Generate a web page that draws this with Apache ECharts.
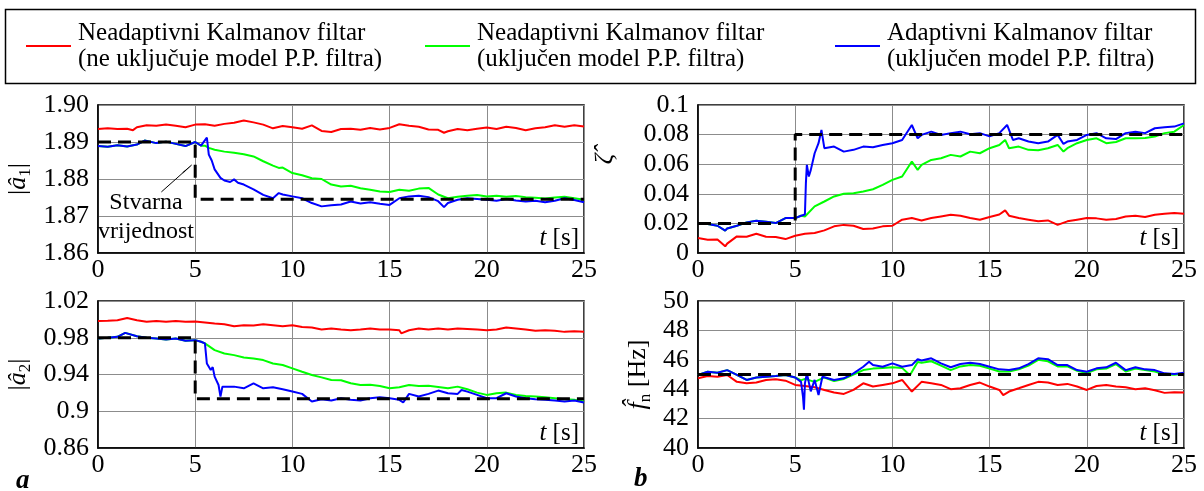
<!DOCTYPE html>
<html><head><meta charset="utf-8">
<script src="https://cdn.jsdelivr.net/npm/echarts@6/dist/echarts.min.js"></script>
<style>html,body{margin:0;padding:0;background:#fff}#c{width:1204px;height:491px}</style>
</head><body><div id="c"></div>
<script>
// ---------- names ----------
const NAME_RED = 'Neadaptivni Kalmanov filtar\n(ne uključuje model P.P. filtra)';
const NAME_GREEN = 'Neadaptivni Kalmanov filtar\n(uključen model P.P. filtra)';
const NAME_BLUE = 'Adaptivni Kalmanov filtar\n(uključen model P.P. filtra)';
const NAME_TRUE = 'Stvarna vrijednost';

// ---------- |a1| ----------
const A1_RED = [[0,1.8935],[0.5,1.8937],[1,1.8935],[1.5,1.8936],[1.8,1.8932],[2,1.8940],[2.5,1.8945],[3,1.8944],[3.5,1.8947],[4,1.8944],[4.5,1.8940],[5,1.8947],[5.5,1.8948],[6,1.8944],[6.5,1.8949],[7,1.8952],[7.5,1.8958],[8,1.8953],[8.5,1.8947],[9,1.8937],[9.5,1.8943],[10,1.8940],[10.5,1.8936],[11,1.8945],[11.5,1.8930],[12,1.8927],[12.5,1.8935],[13,1.8936],[13.5,1.8933],[14,1.8938],[14.5,1.8934],[15,1.8938],[15.5,1.8948],[16,1.8944],[16.5,1.8941],[17,1.8934],[17.5,1.8933],[17.8,1.8925],[18,1.8929],[18.5,1.8935],[19,1.8932],[19.5,1.8936],[20,1.8939],[20.5,1.8935],[21,1.8941],[21.5,1.8938],[22,1.8932],[22.5,1.8937],[23,1.8940],[23.5,1.8945],[24,1.8941],[24.5,1.8945],[25,1.8942]];
const A1_GREEN = [[0,1.8889],[0.5,1.8887],[1,1.8891],[1.5,1.8888],[2,1.8893],[2.4,1.8904],[2.5,1.8899],[3,1.8897],[3.5,1.8901],[4,1.8895],[4.5,1.8889],[5,1.8900],[5.3,1.8890],[5.5,1.8890],[5.7,1.8884],[6,1.8879],[6.5,1.8874],[7,1.8871],[7.5,1.8867],[8,1.8861],[8.5,1.8848],[9,1.8836],[9.3,1.8830],[9.5,1.8831],[10,1.8816],[10.5,1.8810],[11,1.8802],[11.5,1.8800],[12,1.8785],[12.5,1.8780],[13,1.8782],[13.5,1.8775],[14,1.8771],[14.5,1.8766],[15,1.8765],[15.5,1.8771],[16,1.8768],[16.5,1.8774],[17,1.8776],[17.5,1.8758],[18,1.8748],[18.5,1.8752],[19,1.8755],[19.5,1.8757],[20,1.8753],[20.5,1.8755],[21,1.8752],[21.5,1.8754],[22,1.8751],[22.5,1.8749],[23,1.8747],[23.5,1.8750],[24,1.8752],[24.5,1.8748],[25,1.8744]];
const A1_BLUE = [[0,1.8889],[0.5,1.8887],[1,1.8891],[1.5,1.8888],[2,1.8893],[2.4,1.8904],[2.5,1.8899],[3,1.8897],[3.5,1.8901],[4,1.8895],[4.5,1.8889],[5,1.8900],[5.3,1.8890],[5.6,1.8912],[5.7,1.8866],[5.85,1.8850],[6,1.8826],[6.3,1.8803],[6.5,1.8796],[6.8,1.8792],[7,1.8799],[7.2,1.8790],[7.5,1.8785],[8,1.8772],[8.5,1.8757],[9,1.8748],[9.3,1.8762],[9.5,1.8758],[10,1.8753],[10.5,1.8748],[11,1.8735],[11.5,1.8726],[12,1.8729],[12.5,1.8731],[13,1.8739],[13.5,1.8734],[14,1.8737],[14.5,1.8733],[15,1.8730],[15.5,1.8748],[16,1.8753],[16.5,1.8755],[17,1.8751],[17.5,1.8740],[17.8,1.8724],[18,1.8735],[18.5,1.8744],[19,1.8748],[19.5,1.8746],[20,1.8744],[20.5,1.8741],[21,1.8746],[21.5,1.8742],[22,1.8739],[22.5,1.8741],[23,1.8737],[23.5,1.8741],[24,1.8748],[24.5,1.8743],[25,1.8737]];
const A1_TRUE = [[0,1.89],[5,1.89],[5,1.8745],[25,1.8745]];

// ---------- |a2| ----------
const A2_RED = [[0,0.9983],[0.5,0.9986],[1,0.9990],[1.5,1.0014],[2,0.9990],[2.5,0.9975],[3,0.9983],[3.5,0.9974],[4,0.9982],[4.5,0.9973],[5,0.9976],[5.5,0.9965],[6,0.9954],[6.5,0.9947],[7,0.9925],[7.5,0.9936],[8,0.9934],[8.5,0.9947],[9,0.9936],[9.5,0.9925],[10,0.9936],[10.5,0.9918],[11,0.9911],[11.5,0.9889],[12,0.9900],[12.5,0.9889],[13,0.9882],[13.5,0.9890],[14,0.9900],[14.5,0.9889],[15,0.9889],[15.5,0.9882],[15.6,0.9848],[16,0.9882],[16.5,0.9900],[17,0.9889],[17.5,0.9900],[18,0.9889],[18.5,0.9900],[19,0.9896],[19.5,0.9889],[20,0.9882],[20.5,0.9889],[21,0.9911],[21.5,0.9900],[22,0.9889],[22.5,0.9875],[23,0.9882],[23.5,0.9875],[24,0.9864],[24.5,0.9871],[25,0.9864]];
const A2_GREEN = [[0,0.9792],[0.5,0.9800],[1,0.9810],[1.4,0.9853],[1.5,0.9839],[2,0.9817],[2.5,0.9800],[3,0.9792],[3.5,0.9781],[4,0.9792],[4.5,0.9767],[5,0.9774],[5.3,0.9756],[5.5,0.9738],[6,0.9665],[6.5,0.9629],[7,0.9611],[7.5,0.9586],[8,0.9575],[8.5,0.9557],[9,0.9520],[9.5,0.9503],[10,0.9467],[10.5,0.9430],[11,0.9395],[11.5,0.9369],[12,0.9340],[12.5,0.9338],[13,0.9304],[13.5,0.9286],[14,0.9288],[14.5,0.9275],[15,0.9250],[15.5,0.9261],[16,0.9286],[16.5,0.9275],[17,0.9278],[17.5,0.9265],[18,0.9250],[18.5,0.9268],[19,0.9239],[19.5,0.9203],[20,0.9178],[20.5,0.9196],[21,0.9203],[21.5,0.9178],[22,0.9167],[22.5,0.9160],[23,0.9153],[23.5,0.9142],[24,0.9131],[24.5,0.9124],[25,0.9106]];
const A2_BLUE = [[0,0.9792],[0.5,0.9800],[1,0.9810],[1.4,0.9853],[1.5,0.9839],[2,0.9817],[2.5,0.9800],[3,0.9792],[3.5,0.9781],[4,0.9792],[4.5,0.9767],[5,0.9774],[5.3,0.9756],[5.5,0.9738],[5.6,0.9520],[5.8,0.9449],[5.9,0.9480],[6,0.9377],[6.2,0.9286],[6.3,0.9160],[6.4,0.9268],[6.5,0.9286],[7,0.9268],[7.5,0.9250],[8,0.9304],[8.5,0.9250],[9,0.9261],[9.5,0.9239],[10,0.9214],[10.5,0.9189],[11,0.9106],[11.5,0.9131],[12,0.9116],[12.5,0.9142],[13,0.9124],[13.5,0.9116],[14,0.9142],[14.5,0.9153],[15,0.9142],[15.5,0.9124],[15.7,0.9095],[16,0.9189],[16.5,0.9160],[17,0.9189],[17.5,0.9225],[18,0.9196],[18.5,0.9189],[18.7,0.9232],[19,0.9214],[19.5,0.9178],[20,0.9142],[20.5,0.9142],[21,0.9196],[21.5,0.9160],[22,0.9142],[22.5,0.9131],[23,0.9124],[23.5,0.9116],[24,0.9106],[24.5,0.9116],[25,0.9095]];
const A2_TRUE = [[0,0.98],[5,0.98],[5,0.9135],[25,0.9135]];

// ---------- zeta ----------
const Z_RED = [[0,0.0101],[0.5,0.0090],[1,0.0092],[1.4,0.0045],[1.5,0.0063],[2,0.0112],[2.5,0.0110],[3,0.0130],[3.5,0.0110],[4,0.0108],[4.5,0.0094],[5,0.0117],[5.5,0.0130],[6,0.0135],[6.5,0.0153],[7,0.0180],[7.5,0.0190],[8,0.0184],[8.5,0.0162],[9,0.0165],[9.5,0.0180],[10,0.0184],[10.5,0.0225],[11,0.0236],[11.5,0.0220],[12,0.0236],[12.5,0.0247],[13,0.0258],[13.5,0.0252],[14,0.0236],[14.5,0.0225],[15,0.0243],[15.5,0.0260],[15.8,0.0288],[16,0.0252],[16.5,0.0236],[17,0.0225],[17.5,0.0214],[18,0.0220],[18.5,0.0190],[19,0.0214],[19.5,0.0225],[20,0.0236],[20.5,0.0234],[21,0.0225],[21.5,0.0230],[22,0.0247],[22.5,0.0252],[23,0.0243],[23.5,0.0258],[24,0.0265],[24.5,0.0270],[25,0.0265]];
const Z_GREEN = [[0,0.0200],[0.5,0.0196],[1,0.0184],[1.4,0.0151],[1.5,0.0166],[2,0.0184],[2.5,0.0207],[3,0.0218],[3.5,0.0212],[4,0.0202],[4.5,0.0236],[5,0.0236],[5.3,0.0252],[5.5,0.0247],[6,0.0315],[6.5,0.0348],[7,0.0382],[7.5,0.0400],[8,0.0404],[8.5,0.0416],[9,0.0431],[9.5,0.0460],[10,0.0494],[10.5,0.0517],[11,0.0618],[11.3,0.0562],[11.5,0.0596],[12,0.0629],[12.5,0.0640],[13,0.0663],[13.5,0.0652],[14,0.0685],[14.5,0.0674],[15,0.0708],[15.5,0.0730],[15.8,0.0764],[16,0.0708],[16.5,0.0719],[17,0.0697],[17.5,0.0694],[18,0.0708],[18.5,0.0730],[18.8,0.0685],[19,0.0708],[19.5,0.0742],[20,0.0764],[20.5,0.0775],[21,0.0742],[21.5,0.0750],[22,0.0775],[22.5,0.0776],[23,0.0777],[23.5,0.0787],[24,0.0810],[24.5,0.0820],[25,0.0865]];
const Z_BLUE = [[0,0.0200],[0.5,0.0196],[1,0.0184],[1.4,0.0151],[1.5,0.0166],[2,0.0184],[2.5,0.0207],[3,0.0218],[3.5,0.0212],[4,0.0202],[4.5,0.0236],[5,0.0236],[5.3,0.0252],[5.5,0.0260],[5.55,0.0472],[5.6,0.0596],[5.7,0.0517],[5.8,0.0560],[6,0.0674],[6.2,0.0742],[6.35,0.0831],[6.5,0.0708],[7,0.0719],[7.5,0.0685],[8,0.0697],[8.5,0.0719],[9,0.0715],[9.5,0.0730],[10,0.0742],[10.5,0.0764],[11,0.0865],[11.3,0.0775],[11.5,0.0798],[12,0.0820],[12.5,0.0798],[13,0.0810],[13.5,0.0820],[14,0.0802],[14.5,0.0810],[15,0.0788],[15.5,0.0810],[15.9,0.0865],[16.2,0.0764],[16.5,0.0775],[17,0.0753],[17.5,0.0742],[18,0.0753],[18.5,0.0798],[18.8,0.0737],[19,0.0753],[19.5,0.0764],[20,0.0798],[20.5,0.0810],[21,0.0775],[21.5,0.0770],[22,0.0810],[22.5,0.0820],[23,0.0810],[23.5,0.0843],[24,0.0850],[24.5,0.0854],[25,0.0876]];
const Z_TRUE = [[0,0.02],[5,0.02],[5,0.08],[25,0.08]];

// ---------- fn ----------
const F_RED = [[0,44.74],[0.5,44.90],[1,44.85],[1.5,44.97],[2,44.50],[2.5,44.40],[3,44.45],[3.5,44.63],[4,44.67],[4.5,44.58],[5,44.29],[5.5,44.22],[6,44.13],[6.5,43.95],[7,43.77],[7.5,43.68],[8,43.95],[8.5,44.40],[9,44.18],[9.5,44.29],[10,44.40],[10.5,44.63],[11,43.84],[11.5,44.50],[12,44.40],[12.5,44.29],[13,44.00],[13.5,44.06],[14,44.29],[14.5,44.45],[15,44.18],[15.5,43.95],[15.7,43.60],[16,43.84],[16.5,44.06],[17,44.29],[17.5,44.50],[18,44.45],[18.5,44.29],[19,44.36],[19.5,44.18],[20,43.95],[20.5,44.22],[21,44.29],[21.5,44.18],[22,44.13],[22.5,44.00],[23,44.06],[23.5,43.93],[24,43.75],[24.5,43.80],[25,43.77]];
const F_GREEN = [[0,44.97],[0.5,45.19],[1,45.12],[1.5,45.30],[2,44.97],[2.5,44.63],[3,44.80],[3.5,44.85],[4,44.90],[4.5,44.97],[5,44.80],[5.3,44.60],[5.5,44.70],[6,44.50],[6.5,44.80],[7,44.55],[7.5,44.70],[8,45.00],[8.5,45.30],[9,45.40],[9.5,45.45],[10,45.50],[10.5,45.45],[10.9,44.95],[11.3,45.85],[11.5,45.80],[12,45.90],[12.5,45.60],[13,45.30],[13.5,45.55],[14,45.65],[14.5,45.60],[15,45.40],[15.5,45.20],[16,45.20],[16.5,45.35],[17,45.60],[17.5,46.00],[18,45.90],[18.5,45.55],[19,45.55],[19.5,45.25],[20,45.10],[20.5,45.35],[21,45.40],[21.5,45.70],[22,45.20],[22.5,45.40],[23,45.30],[23.5,45.20],[24,45.00],[24.5,44.98],[25,45.05]];
const F_BLUE = [[0,44.97],[0.5,45.19],[1,45.12],[1.5,45.30],[2,44.97],[2.5,44.63],[3,44.80],[3.5,44.85],[4,44.90],[4.5,44.97],[5,44.80],[5.3,44.50],[5.4,43.50],[5.45,42.60],[5.5,44.40],[5.6,45.08],[5.8,43.85],[6,44.63],[6.2,43.60],[6.4,44.85],[6.5,44.95],[7,44.63],[7.5,44.74],[8,45.08],[8.5,45.53],[8.8,45.87],[9,45.64],[9.5,45.53],[10,45.76],[10.5,45.53],[11,45.64],[11.3,46.04],[11.5,45.95],[12,46.10],[12.5,45.76],[13,45.49],[13.5,45.71],[14,45.80],[14.5,45.71],[15,45.53],[15.5,45.35],[16,45.30],[16.5,45.42],[17,45.71],[17.5,46.10],[18,46.04],[18.5,45.64],[19,45.64],[19.5,45.30],[20,45.19],[20.5,45.42],[21,45.49],[21.5,45.80],[22,45.30],[22.5,45.49],[23,45.35],[23.5,45.30],[24,45.08],[24.5,45.03],[25,45.12]];
const F_TRUE = [[0,45],[25,45]];

// ---------- axes ----------
const X_TICKS = {min: 0, max: 25, interval: 5};
const Y_A1 = {min: 1.86, max: 1.90, interval: 0.01};
const Y_A2 = {min: 0.86, max: 1.02, interval: 0.04};
const Y_Z = {min: 0, max: 0.1, interval: 0.02};
const Y_F = {min: 40, max: 50, interval: 2};

const FONT = 'Liberation Serif';
const RED = '#ff0000', GREEN = '#00ff00', BLUE = '#0000ff';
const TICK_FS = 26;

const grids = [
  {left: 98, top: 105, width: 486, height: 148},
  {left: 98, top: 301, width: 486, height: 147},
  {left: 698, top: 105, width: 486, height: 148},
  {left: 698, top: 301, width: 486, height: 147}
].map(g => Object.assign(g, {show: true, borderColor: '#000', borderWidth: 1.5, backgroundColor: '#fff'}));

const xAxis = [0, 1, 2, 3].map(i => ({
  type: 'value', gridIndex: i, min: X_TICKS.min, max: X_TICKS.max, interval: X_TICKS.interval,
  axisLine: {show: true, lineStyle: {color: '#000', width: 1.5}},
  axisTick: {show: false},
  axisLabel: {color: '#000', fontSize: TICK_FS, fontFamily: FONT, margin: 4},
  splitLine: {show: true, lineStyle: {color: '#8c8c8c', width: 1}}
}));

const richName = {
  n: {fontSize: 26, fontFamily: FONT, color: '#000'},
  i: {fontSize: 26, fontFamily: FONT, fontStyle: 'italic', color: '#000'},
  s: {fontSize: 17, fontFamily: FONT, color: '#000', verticalAlign: 'bottom', lineHeight: 31}
};
function yAx(i, r, name, gap, pad, fmt) {
  return {
    type: 'value', gridIndex: i, min: r.min, max: r.max, interval: r.interval,
    name: name, nameLocation: 'middle', nameGap: gap,
    nameTextStyle: {rich: richName, padding: pad, fontFamily: FONT, fontSize: 26, color: '#000'},
    axisLine: {show: true, lineStyle: {color: '#000', width: 1.5}},
    axisTick: {show: false},
    axisLabel: {color: '#000', fontSize: TICK_FS, fontFamily: FONT, margin: 9, formatter: fmt},
    splitLine: {show: true, lineStyle: {color: '#8c8c8c', width: 1}}
  };
}
const yAxis = [
  yAx(0, Y_A1, '{n||}{i|â}{s|1}{n||}', 64, [0, 0, 0, 0], v => v.toFixed(2)),
  yAx(1, Y_A2, '{n||}{i|â}{s|2}{n||}', 64, [0, 0, 0, 0], undefined),
  yAx(2, Y_Z, '{i|ζ\u0302}', 80, [0, 0, 0, 40], undefined),
  yAx(3, Y_F, '{i|f\u0302}{s|n}{n| [Hz]}', 44, [0, 0, 0, 0], undefined)
];

function ln(name, idx, data, color, z) {
  return {
    type: 'line', name: name, xAxisIndex: idx, yAxisIndex: idx, data: data,
    showSymbol: false, symbol: 'none', z: z, animation: false,
    lineStyle: {color: color, width: 2}, itemStyle: {color: color}
  };
}
function truth(idx, data, extra) {
  return Object.assign({
    type: 'line', name: NAME_TRUE, xAxisIndex: idx, yAxisIndex: idx, data: data,
    showSymbol: false, symbol: 'none', z: 6, animation: false,
    lineStyle: {color: '#000', width: 3, type: [13, 7]}, itemStyle: {color: '#000'}
  }, extra || {});
}

const series = [];
[[A1_RED, A1_GREEN, A1_BLUE], [A2_RED, A2_GREEN, A2_BLUE], [Z_RED, Z_GREEN, Z_BLUE], [F_RED, F_GREEN, F_BLUE]]
  .forEach((s, i) => {
    series.push(ln(NAME_RED, i, s[0], RED, 3));
    series.push(ln(NAME_GREEN, i, s[1], GREEN, 4));
    series.push(ln(NAME_BLUE, i, s[2], BLUE, 5));
  });
series.push(truth(0, A1_TRUE, {
  markLine: {
    silent: true, symbol: ['none', 'arrow'], symbolSize: [1, 13], animation: false,
    lineStyle: {type: 'solid', color: '#000', width: 1},
    label: {show: false},
    data: [[{coord: [3.26, 1.8765]}, {coord: [4.82, 1.8838]}]]
  },
  markPoint: {
    silent: true, animation: false, symbol: 'rect', symbolSize: 1,
    itemStyle: {color: 'rgba(0,0,0,0)'},
    label: {show: true, position: 'inside', formatter: 'Stvarna\nvrijednost', color: '#000',
      fontSize: 24, fontFamily: FONT, lineHeight: 29},
    data: [{coord: [2.47, 1.8696]}]
  }
}));
series.push(truth(1, A2_TRUE));
series.push(truth(2, Z_TRUE));
series.push(truth(3, F_TRUE));

function legendAt(left, name) {
  return {
    left: left, top: 15, orient: 'horizontal', data: [name],
    icon: 'rect', itemWidth: 45, itemHeight: 2, selectedMode: false,
    textStyle: {fontSize: 25, fontFamily: FONT, color: '#000', lineHeight: 26, padding: [0, 0, 0, 2]}
  };
}

const tsBox = (x, y) => [
  {type: 'rect', z: 50, shape: {x: x, y: y, width: 95, height: 27}, style: {fill: '#fff'}},
  {type: 'text', z: 51, x: x + 91, y: y + 13,
   style: {text: '{i|t} [s]', align: 'right', verticalAlign: 'middle', fontSize: 25, fontFamily: FONT, fill: '#000',
     rich: {i: {fontStyle: 'italic', fontSize: 25, fontFamily: FONT, fill: '#000'}}}}
];

const graphic = [
  {type: 'rect', z: 50, shape: {x: 5.5, y: 9.5, width: 1190, height: 74}, style: {fill: 'none', stroke: '#000', lineWidth: 1.5}},
  ...tsBox(488, 225), ...tsBox(488, 420), ...tsBox(1088, 225), ...tsBox(1088, 420),
  {type: 'text', z: 51, x: 16, y: 468, style: {text: 'a', fontSize: 27, fontWeight: 'bold', fontStyle: 'italic', fontFamily: FONT, fill: '#000'}},
  {type: 'text', z: 51, x: 634, y: 466, style: {text: 'b', fontSize: 27, fontWeight: 'bold', fontStyle: 'italic', fontFamily: FONT, fill: '#000'}}
];

const chart = echarts.init(document.getElementById('c'), null, {renderer: 'canvas'});
chart.setOption({
  animation: false,
  backgroundColor: '#fff',
  textStyle: {fontFamily: FONT},
  legend: [legendAt(21, NAME_RED), legendAt(420, NAME_GREEN), legendAt(830, NAME_BLUE)],
  grid: grids, xAxis: xAxis, yAxis: yAxis, series: series, graphic: graphic
});
</script></body></html>
